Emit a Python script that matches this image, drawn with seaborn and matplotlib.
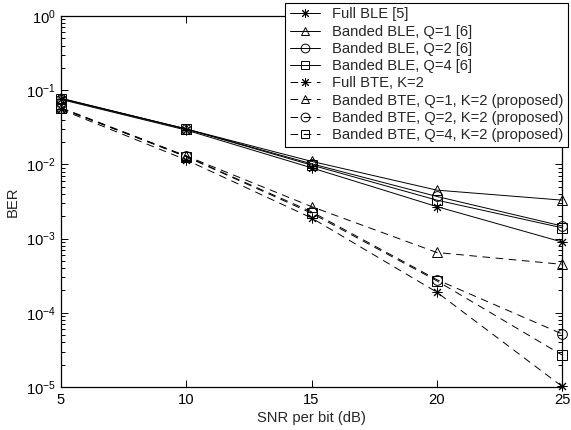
import matplotlib
matplotlib.use("Agg")
import matplotlib.pyplot as plt
import seaborn as sns
import numpy as np
from matplotlib.ticker import LogLocator, NullFormatter

# ---- data ----
snr = [5, 10, 15, 20, 25]
full_ble = [0.075, 0.029, 0.0090, 0.0027, 0.00090]
ble_q1 = [0.078, 0.030, 0.0110, 0.0045, 0.0033]
ble_q2 = [0.077, 0.030, 0.0102, 0.0037, 0.00148]
ble_q4 = [0.077, 0.030, 0.0098, 0.0033, 0.00140]
full_bte = [0.055, 0.0115, 0.0019, 0.00019, 0.0000102]
bte_q1 = [0.058, 0.0130, 0.0027, 0.00065, 0.00045]
bte_q2 = [0.057, 0.0128, 0.0023, 0.00028, 0.000052]
bte_q4 = [0.057, 0.0127, 0.0022, 0.00027, 0.000027]

labels = ["Full BLE [5]", "Banded BLE, Q=1 [6]", "Banded BLE, Q=2 [6]",
          "Banded BLE, Q=4 [6]", "Full BTE, K=2",
          "Banded BTE, Q=1, K=2 (proposed)", "Banded BTE, Q=2, K=2 (proposed)",
          "Banded BTE, Q=4, K=2 (proposed)"]
series = [full_ble, ble_q1, ble_q2, ble_q4, full_bte, bte_q1, bte_q2, bte_q4]
x_ticks = [5, 10, 15, 20, 25]
x_label = "SNR per bit (dB)"
y_label = "BER"

sns.set_theme(style="ticks")
plt.rcParams['font.family'] = ['Liberation Sans', 'DejaVu Sans']
plt.rcParams['mathtext.fontset'] = 'custom'
plt.rcParams['mathtext.rm'] = 'Liberation Sans'
plt.rcParams['mathtext.it'] = 'Liberation Sans:italic'
plt.rcParams['mathtext.bf'] = 'Liberation Sans:bold'
plt.rcParams['lines.scale_dashes'] = False

FS = 10.6

fig = plt.figure(figsize=(5.71, 4.30), dpi=100)
ax = fig.add_axes([61/571, 1-387/430, (562-61)/571, (387-16)/430])

markers = [(8, 2, 0), "^", "o", "s", (8, 2, 0), "^", "o", "s"]
styles = ["-"] * 4 + [(0, (5.5, 4))] * 4

for i, (ys, lab) in enumerate(zip(series, labels)):
    sns.lineplot(x=snr, y=ys, ax=ax, color="black", linewidth=0.7,
                 linestyle=styles[i], marker=markers[i], markersize=7,
                 markerfacecolor="none", markeredgecolor="black",
                 markeredgewidth=0.7, label=lab, clip_on=False)

ax.set_yscale("log")
ax.set_xlim(5, 25)
ax.set_ylim(1e-5, 1)
ax.set_xticks(x_ticks)
ax.set_xticklabels([str(t) for t in x_ticks])
ax.yaxis.set_major_locator(LogLocator(base=10, numticks=10))
ax.yaxis.set_minor_locator(LogLocator(base=10, subs=np.arange(2, 10), numticks=10))
ax.yaxis.set_minor_formatter(NullFormatter())

ax.tick_params(which="both", direction="in", top=True, right=True,
               labelsize=FS, colors="black", width=0.7)
ax.tick_params(which="major", length=5, pad=4)
ax.tick_params(which="minor", length=3)
for s in ax.spines.values():
    s.set_linewidth(0.9)
    s.set_color("black")
    s.set_visible(True)

ax.set_xlabel(x_label, fontsize=FS, labelpad=3)
ax.set_ylabel(y_label, fontsize=FS, labelpad=4)

leg = ax.legend(loc="upper right", bbox_to_anchor=(568/571, 1-3/430),
                bbox_transform=fig.transFigure, fontsize=FS, frameon=True,
                fancybox=False, edgecolor="black", framealpha=1,
                handlelength=2.1, handletextpad=0.8, labelspacing=0.22,
                borderpad=0.3, borderaxespad=0, markerscale=0.9)
leg.get_frame().set_linewidth(0.8)

fig.savefig("out.png", dpi=100)
